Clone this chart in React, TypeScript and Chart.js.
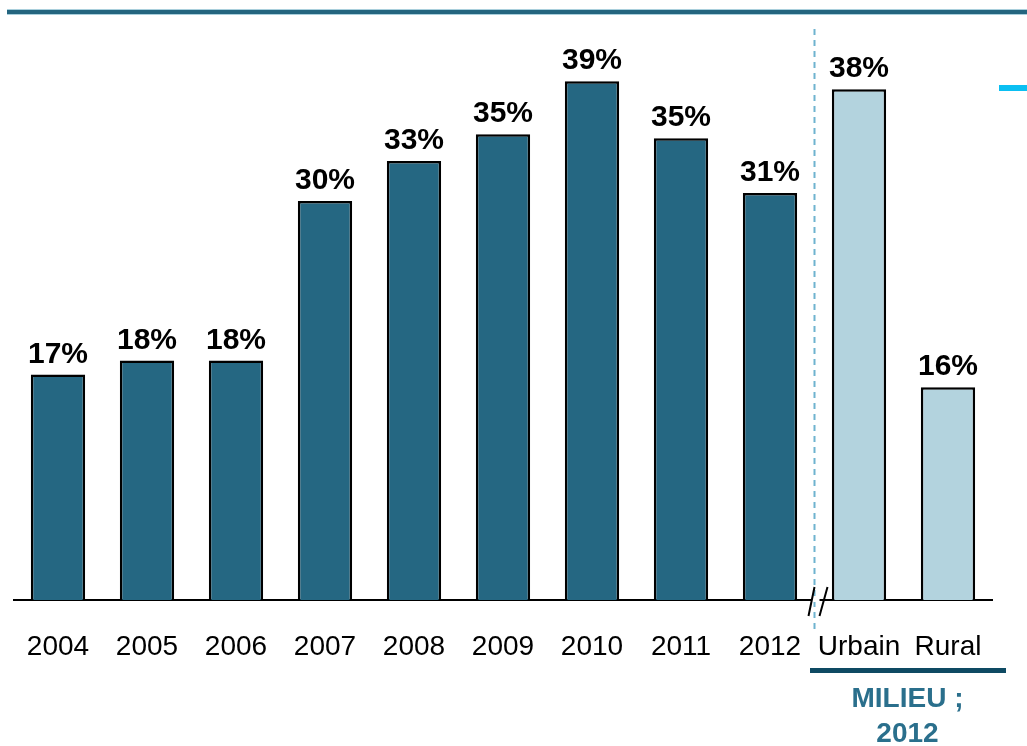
import React, { useEffect, useRef } from "react";
import { Chart, registerables } from "chart.js";

Chart.register(...registerables);

const categories = ["2004", "2005", "2006", "2007", "2008", "2009", "2010", "2011", "2012", "Urbain", "Rural"];
const values = [16.95, 18, 18, 30, 33, 35, 39, 34.7, 30.6, 38.4, 16];
const valueLabels = ["17%", "18%", "18%", "30%", "33%", "35%", "39%", "35%", "31%", "38%", "16%"];
const groupTitle = ["MILIEU ;", "2012"];

const DARK = "#256782";
const LIGHT = "#b3d3de";
const barColors = categories.map((_, i) => (i < 9 ? DARK : LIGHT));

const FONT = "'Liberation Sans', Arial, sans-serif";

const decorPlugin = {
  id: "decor",
  afterDraw(chart: any) {
    const { ctx, chartArea } = chart;
    const xs = chart.scales.x;
    const meta = chart.getDatasetMeta(0);
    ctx.save();
    // top rule
    ctx.fillStyle = "#a9cfdc";
    ctx.fillRect(7, 9, 1020, 6);
    ctx.fillStyle = "#24657f";
    ctx.fillRect(7, 10, 1020, 4);
    // cyan dash top right
    ctx.fillStyle = "#0bbff2";
    ctx.fillRect(999, 85, 28, 6);

    // value labels
    ctx.fillStyle = "#000";
    ctx.font = `bold 30px ${FONT}`;
    ctx.textAlign = "center";
    ctx.textBaseline = "alphabetic";
    meta.data.forEach((bar: any, i: number) => {
      ctx.fillText(valueLabels[i], bar.x, bar.y - 12);
    });

    // dashed separator between 2012 and Urbain
    const sepX = (xs.getPixelForValue(8) + xs.getPixelForValue(9)) / 2;
    ctx.strokeStyle = "#6fb3cf";
    ctx.lineWidth = 2;
    ctx.setLineDash([6, 5]);
    ctx.beginPath();
    ctx.moveTo(sepX, 29);
    ctx.lineTo(sepX, 632);
    ctx.stroke();
    ctx.setLineDash([]);

    // axis break
    const by = chartArea.bottom;
    ctx.fillStyle = "#fff";
    ctx.fillRect(sepX - 3, by - 2, 8, 4);
    ctx.strokeStyle = "#000";
    ctx.lineWidth = 2;
    ctx.beginPath();
    ctx.moveTo(sepX - 6, by + 16);
    ctx.lineTo(sepX, by - 13);
    ctx.moveTo(sepX + 5, by + 16);
    ctx.lineTo(sepX + 13, by - 13);
    ctx.stroke();

    // group underline and title
    const gx = (xs.getPixelForValue(9) + xs.getPixelForValue(10)) / 2;
    ctx.fillStyle = "#0e4a63";
    ctx.fillRect(810, 668, 196, 5);
    ctx.fillStyle = "#2a6f8c";
    ctx.font = `bold 28px ${FONT}`;
    ctx.textBaseline = "middle";
    ctx.fillText(groupTitle[0], gx + 4, 699);
    ctx.fillText(groupTitle[1], gx + 4, 734);
    ctx.restore();
  },
};

export default function App() {
  const ref = useRef<HTMLCanvasElement | null>(null);
  useEffect(() => {
    if (!ref.current) return;
    const chart = new Chart(ref.current, {
      type: "bar",
      data: {
        labels: categories,
        datasets: [
          {
            data: values,
            backgroundColor: barColors,
            borderColor: "#000",
            borderWidth: 2.5,
            barPercentage: 0.61,
            categoryPercentage: 1,
          },
        ],
      },
      options: {
        responsive: false,
        devicePixelRatio: 1,
        animation: false,
        layout: { padding: { left: 13.5, right: 34.5, top: 0, bottom: 0 } },
        plugins: { legend: { display: false }, tooltip: { enabled: false } },
        scales: {
          y: { display: false, min: 0, max: 45.1 },
          x: {
            grid: { display: false, drawTicks: false },
            border: { display: true, color: "#000", width: 2 },
            ticks: {
              color: "#000",
              font: { family: FONT, size: 28 },
              padding: 30,
              maxRotation: 0,
              autoSkip: false,
            },
            afterFit(scale: any) {
              scale.height = 146;
              scale.paddingLeft = 0;
              scale.paddingRight = 0;
            },
          },
        },
      },
      plugins: [decorPlugin],
    });
    return () => chart.destroy();
  }, []);
  return (
    <div style={{ position: "fixed", left: 0, top: 0, width: 1027, height: 746, background: "#fff" }}>
      <canvas ref={ref} width={1027} height={746} style={{ display: "block" }} />
    </div>
  );
}
